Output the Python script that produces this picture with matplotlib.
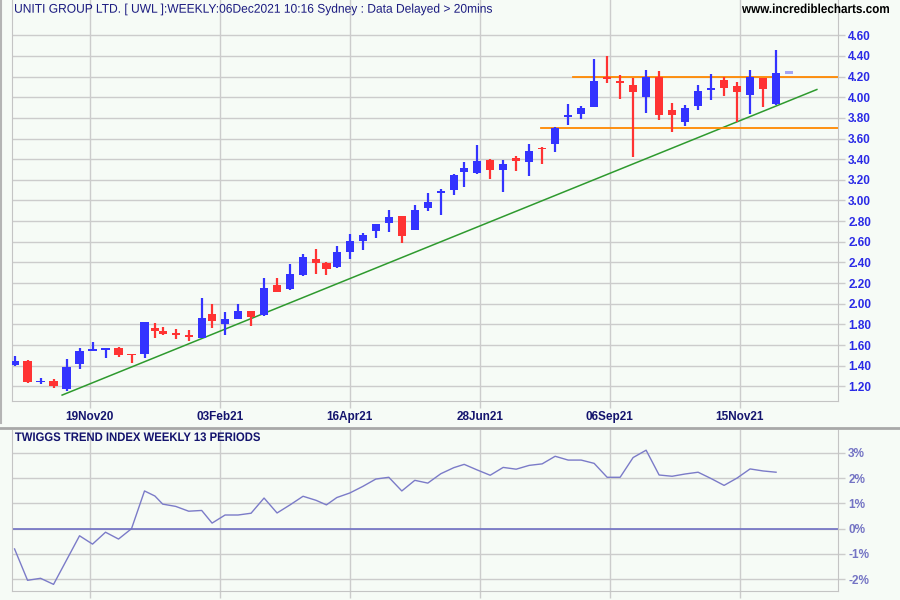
import numpy as np
import matplotlib
matplotlib.use('Agg')
import matplotlib.pyplot as plt
from matplotlib.lines import Line2D
from matplotlib.textpath import TextPath
from matplotlib.patches import PathPatch
from matplotlib.font_manager import FontProperties
from matplotlib.transforms import Affine2D

# ASX holidays inside the chart range
holidays = ['2020-12-25', '2020-12-28', '2021-01-01', '2021-01-26',
            '2021-04-02', '2021-04-05', '2021-06-14']
first_week = '2020-10-05'
ref_day = '2020-11-19'

# weekly OHLC (last week is the live, partial bar)
opens = [1.41, 1.45, 1.24, 1.25, 1.175, 1.415, 1.545, 1.555, 1.575, 1.51,
         1.515, 1.76, 1.735, 1.71, 1.70, 1.667, 1.90, 1.805, 1.855, 1.93,
         1.89, 2.18, 2.14, 2.28, 2.43, 2.39, 2.36, 2.50, 2.605, 2.70,
         2.785, 2.85, 2.715, 2.93, 3.07, 3.10, 3.275, 3.265, 3.395, 3.30,
         3.415, 3.37, 3.505, 3.545, 3.805, 3.84, 3.905, 4.19, 4.16, 4.12,
         4.005, 4.20, 3.875, 3.765, 3.92, 4.075, 4.17, 4.11, 4.02, 4.19,
         3.935, 4.23]
highs = [1.49, 1.455, 1.28, 1.27, 1.46, 1.575, 1.63, 1.57, 1.585, 1.51,
         1.82, 1.81, 1.775, 1.755, 1.745, 2.055, 2.00, 1.92, 2.00, 1.93,
         2.245, 2.25, 2.38, 2.48, 2.53, 2.40, 2.56, 2.68, 2.685, 2.775,
         2.905, 2.85, 2.955, 3.07, 3.115, 3.26, 3.37, 3.54, 3.405, 3.39,
         3.435, 3.55, 3.52, 3.71, 3.93, 3.915, 4.37, 4.40, 4.215, 4.19,
         4.265, 4.255, 3.945, 3.925, 4.12, 4.225, 4.20, 4.15, 4.265, 4.19,
         4.46, 4.255]
lows = [1.40, 1.23, 1.225, 1.18, 1.155, 1.37, 1.545, 1.47, 1.48, 1.43,
        1.47, 1.67, 1.695, 1.66, 1.64, 1.665, 1.765, 1.70, 1.855, 1.785,
        1.88, 2.11, 2.13, 2.27, 2.29, 2.28, 2.35, 2.43, 2.52, 2.64,
        2.695, 2.59, 2.715, 2.90, 2.86, 3.055, 3.13, 3.26, 3.205, 3.08,
        3.285, 3.235, 3.35, 3.47, 3.73, 3.79, 3.905, 4.14, 3.98, 3.425,
        3.85, 3.775, 3.66, 3.725, 3.88, 3.97, 4.01, 3.765, 3.84, 3.905,
        3.925, 4.23]
closes = [1.45, 1.24, 1.25, 1.20, 1.39, 1.54, 1.555, 1.565, 1.50, 1.50,
          1.82, 1.74, 1.705, 1.70, 1.68, 1.86, 1.83, 1.85, 1.93, 1.875,
          2.15, 2.11, 2.29, 2.45, 2.395, 2.34, 2.50, 2.605, 2.67, 2.77,
          2.84, 2.655, 2.905, 2.99, 3.09, 3.245, 3.31, 3.385, 3.30, 3.35,
          3.38, 3.475, 3.495, 3.705, 3.83, 3.90, 4.16, 4.18, 4.14, 4.055,
          4.195, 3.83, 3.83, 3.895, 4.06, 4.085, 4.09, 4.05, 4.195, 4.08,
          4.235, 4.255]

# Twiggs trend index, % (one value per completed week)
twiggs = [-0.80, -2.04, -1.96, -2.20, -1.24, -0.28, -0.61, -0.14, -0.41, 0.0,
          1.49, 1.29, 0.97, 0.88, 0.69, 0.72, 0.22, 0.54, 0.54, 0.61,
          1.21, 0.62, 0.94, 1.28, 1.12, 0.94, 1.23, 1.41, 1.67, 1.96,
          2.03, 1.49, 1.91, 1.80, 2.17, 2.41, 2.54, 2.32, 2.11, 2.42,
          2.35, 2.50, 2.56, 2.86, 2.71, 2.71, 2.58, 2.03, 2.03, 2.81,
          3.10, 2.12, 2.07, 2.16, 2.23, 1.98, 1.71, 2.00, 2.36, 2.28,
          2.23]

tick_dates = ['2020-11-19', '2021-02-03', '2021-04-16', '2021-06-28',
              '2021-09-06', '2021-11-15']
tick_labels = ['19Nov20', '03Feb21', '16Apr21', '28Jun21', '06Sep21', '15Nov21']

# drawn lines: trendline (trading days from ref_day, price), support/resistance
trend_days = [-10.7, 279.7]
trend_prices = [1.115, 4.075]
resist_level, resist_from = 4.20, 45
support_level, support_from = 3.70, 42

title = 'UNITI GROUP LTD. [ UWL ]:WEEKLY:06Dec2021 10:16 Sydney : Data Delayed > 20mins'
site = 'www.incrediblecharts.com'
ind_title = 'TWIGGS TREND INDEX WEEKLY 13 PERIODS'

BLUE, RED, PALE = '#3333ff', '#ff3333', '#a4a4f4'
BG, GRID, NAVY = '#f6fbf6', '#cccccc', '#14146e'

weeks = np.datetime64(first_week) + 7 * np.arange(len(opens))
week_end = np.busday_offset(weeks + 4, 0, roll='backward', holidays=holidays)
x = np.busday_count(ref_day, week_end, holidays=holidays).astype(float)
ticks = np.busday_count(ref_day, tick_dates, holidays=holidays)

o, h, l, c = map(np.array, (opens, highs, lows, closes))
xmin, xmax = -30.1, 288.0

fig = plt.figure(figsize=(9, 6), dpi=100, facecolor=BG)
ax = fig.add_axes([0.013, 0.3312, 0.9186, 0.6688], facecolor=BG)
ax2 = fig.add_axes([0.013, 0.015, 0.9186, 0.2683], facecolor=BG)


def narrow_text(s, x0, base_y, size, width, color, weight='normal', ha='left'):
    # condensed text: glyph path squeezed to a given pixel width
    tp = TextPath((0, 0), s, size=size,
                  prop=FontProperties(family='Liberation Sans', weight=weight))
    ext = tp.get_extents()
    if ha == 'right':
        x0 = x0 - width
    tr = Affine2D().translate(-ext.x0, 0).scale(width / ext.width, 1).translate(x0, 600 - base_y)
    fig.add_artist(PathPatch(tp, transform=tr, fc=color, ec='none', zorder=10))


for a in (ax, ax2):
    a.set_xlim(xmin, xmax)
    a.set_xticks(ticks)
    a.grid(True, color=GRID, lw=1)
    a.set_axisbelow(True)
    a.yaxis.tick_right()
    a.tick_params(direction='out', length=5, color=GRID, width=1, pad=2)
    a.spines['top'].set_visible(False)
    for s in ('left', 'right', 'bottom'):
        a.spines[s].set_color('#c4c4c4')

# candles
colors = np.where(c >= o, BLUE, RED).tolist()
colors[-1] = PALE
body_lo = np.minimum(o, c)
body_h = np.maximum(np.abs(c - o), 0.014)
ax.vlines(x[:-1], l[:-1], h[:-1], colors=colors[:-1], lw=1.6, zorder=3)
ax.bar(x, body_h, bottom=body_lo, width=3.2, color=colors, lw=0, zorder=4)

ax.plot(trend_days, trend_prices, color='#2e9a2e', lw=1.1, zorder=2)
ax.plot([x[resist_from] - 3.2, xmax], [resist_level] * 2, color='#ff8800', lw=1.3, zorder=2)
ax.plot([x[support_from] - 0.6, xmax], [support_level] * 2, color='#ff8800', lw=1.3, zorder=2)

ax.set_ylim(1.055, 4.942)
ax.set_yticks(np.arange(1.2, 4.61, 0.2))
ax.set_yticklabels(['%.2f' % v for v in np.arange(1.2, 4.61, 0.2)],
                   color='#2a2ae6', fontweight='bold', fontsize=8.5,
                   family=['Liberation Sans', 'DejaVu Sans'])
ax.set_xticklabels(tick_labels, color=NAVY, fontweight='bold', fontsize=8.5,
                   family=['Liberation Sans', 'DejaVu Sans'])

# indicator
ax2.plot(x[:len(twiggs)], twiggs, color='#7b7bc8', lw=1)
ax2.axhline(0, color='#7070c4', lw=1.2)
ax2.set_ylim(-2.462, 3.897)
ax2.set_yticks(range(-2, 4))
ax2.set_yticklabels(['%d%%' % v for v in range(-2, 4)], color='#7474c4',
                    fontweight='bold', fontsize=8.5,
                    family=['Liberation Sans', 'DejaVu Sans'])
ax2.set_xticklabels([])

narrow_text(title, 15, 12.7, 12.6, 477, '#1a1a80')
narrow_text(site, 889, 13, 13.0, 147, 'black', weight='bold', ha='right')
narrow_text(ind_title, 15, 441, 12.4, 245, NAVY, weight='bold')

# panel separator and left edge
fig.add_artist(Line2D([0, 1], [1 - 428.3 / 600] * 2, color='#a8a8a8', lw=2))
fig.add_artist(Line2D([0.0015, 0.0015], [1 - 423 / 600, 1], color='#b4b4b4', lw=1.5))

fig.savefig('out.png', dpi=100, facecolor=BG)
